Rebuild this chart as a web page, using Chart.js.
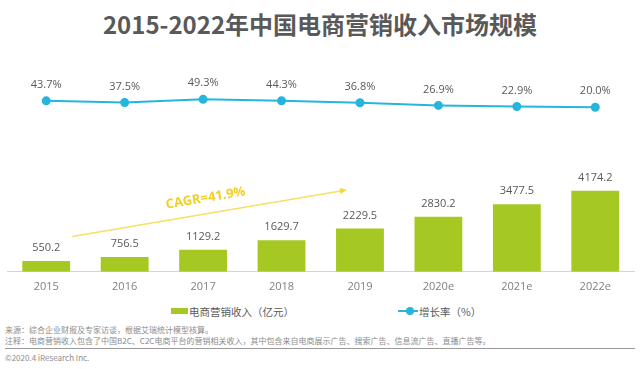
<!DOCTYPE html>
<html>
<head>
<meta charset="utf-8">
<script src="https://cdn.jsdelivr.net/npm/chart.js@4"></script>
<style>
  body { margin: 0; background: #fff; font-family: 'Noto Sans CJK SC', sans-serif; }
  #wrap { position: relative; width: 640px; height: 369px; overflow: hidden; }
  #title { position: absolute; left: 0; width: 640px; text-align: center; top: 6px; font-size: 24px; font-weight: bold; color: #595959; white-space: nowrap; }
  #box { position: absolute; left: 0; top: 56px; width: 640px; height: 245px; }
  #legend { position: absolute; top: 303px; left: 0; width: 640px; height: 16px; font-size: 10.5px; color: #595959; }
  .item { position: absolute; top: 0; height: 16px; display: flex; align-items: center; white-space: nowrap; }
  .note { position: absolute; left: 5px; font-size: 8px; color: #8c8c8c; white-space: nowrap; }
  #rule { position: absolute; left: 5px; top: 348px; width: 630px; height: 1px; background: #9a9a9a; }
</style>
</head>
<body>
<div id="wrap">
  <div id="title">2015-2022年中国电商营销收入市场规模</div>
  <div id="box"><canvas id="grafico"></canvas></div>
  <div id="legend"></div>
  <div class="note" style="top:324px">来源：综合企业财报及专家访谈，根据艾瑞统计模型核算。</div>
  <div class="note" style="top:335px">注释：电商营销收入包含了中国B2C、C2C电商平台的营销相关收入，其中包含来自电商展示广告、搜索广告、信息流广告、直播广告等。</div>
  <div id="rule"></div>
  <div class="note" style="top:352px">©2020.4 iResearch Inc.</div>
</div>
<script>
const anos = ['2015', '2016', '2017', '2018', '2019', '2020e', '2021e', '2022e'];
const receita = [550.2, 756.5, 1129.2, 1629.7, 2229.5, 2830.2, 3477.5, 4174.2];
const crescimento = [43.7, 37.5, 49.3, 44.3, 36.8, 26.9, 22.9, 20.0];
const nomeReceita = '电商营销收入（亿元）';
const nomeCrescimento = '增长率（%）';
const cagr = 'CAGR=41.9%';

const verde = '#a6c823';
const azul = '#26b5dc';
const fonteNum = "'Open Sans', 'Noto Sans CJK SC', sans-serif";

const rotulos = {
    id: 'rotulos',
    afterDatasetsDraw(chart) {
        const ctx = chart.ctx;
        ctx.save();
        ctx.font = '11px ' + fonteNum;
        ctx.fillStyle = '#595959';
        ctx.textAlign = 'center';
        ctx.textBaseline = 'middle';
        chart.getDatasetMeta(0).data.forEach((bar, i) => {
            ctx.fillText(receita[i].toFixed(1), bar.x, bar.y - 13);
        });
        chart.getDatasetMeta(1).data.forEach((pt, i) => {
            ctx.fillText(crescimento[i].toFixed(1) + '%', pt.x, pt.y - 16);
        });
        ctx.restore();
    }
};

// seta amarela do CAGR, de 2015 ate 2019
const seta = {
    id: 'seta',
    afterDatasetsDraw(chart) {
        const ctx = chart.ctx;
        const x = chart.scales.x, y = chart.scales.y;
        const x0 = x.getPixelForValue(0) + 26, y0 = y.getPixelForValue(1820);
        const x1 = x.getPixelForValue(4) - 15, y1 = y.getPixelForValue(4200);
        const ang = Math.atan2(y1 - y0, x1 - x0);
        ctx.save();
        ctx.strokeStyle = '#f6e062';
        ctx.fillStyle = '#f4d83a';
        ctx.lineWidth = 1.5;
        ctx.beginPath();
        ctx.moveTo(x0, y0);
        ctx.lineTo(x1, y1);
        ctx.stroke();
        ctx.translate(x1, y1);
        ctx.rotate(ang);
        ctx.beginPath();
        ctx.moveTo(2, 0);
        ctx.lineTo(-5, -3);
        ctx.lineTo(-5, 3);
        ctx.closePath();
        ctx.fill();
        ctx.restore();
        ctx.save();
        ctx.translate((x0 + x1) / 2 - 3, (y0 + y1) / 2 - 15);
        ctx.rotate(ang);
        ctx.font = 'bold 13px ' + fonteNum;
        ctx.fillStyle = '#f3cf22';
        ctx.textAlign = 'center';
        ctx.textBaseline = 'middle';
        ctx.fillText(cagr, 0, 0);
        ctx.restore();
    }
};

function criarGrafico() {
    const ctx = document.getElementById('grafico');
    return new Chart(ctx, {
        data: {
            labels: anos,
            datasets: [{
                type: 'bar',
                label: nomeReceita,
                data: receita,
                backgroundColor: verde,
                yAxisID: 'y',
                categoryPercentage: 1,
                barPercentage: 0.61,
                order: 2
            }, {
                type: 'line',
                label: nomeCrescimento,
                data: crescimento,
                borderColor: azul,
                backgroundColor: azul,
                borderWidth: 2,
                pointRadius: 3.5,
                pointHoverRadius: 3.5,
                yAxisID: 'y1',
                order: 1
            }]
        },
        options: {
            responsive: true,
            maintainAspectRatio: false,
            animation: false,
            layout: { padding: { left: 7, right: 5, top: 4, bottom: 0 } },
            scales: {
                x: {
                    grid: { display: false, drawTicks: false },
                    border: { display: true, color: '#d4d4d4', width: 1 },
                    ticks: { color: '#808080', padding: 8, font: { size: 11, family: fonteNum } }
                },
                y: { display: false, min: 0, max: 10825 },
                y1: { display: false, min: -588.5, max: 189.3 }
            },
            plugins: {
                legend: { display: false },
                tooltip: { enabled: false }
            }
        },
        plugins: [rotulos, seta]
    });
}

function criarLegenda(chart) {
    const leg = document.getElementById('legend');
    const ds = chart.data.datasets;
    const a = document.createElement('div');
    a.className = 'item';
    a.style.left = '171px';
    a.innerHTML = '<span style="display:inline-block;width:17px;height:6px;background:' + ds[0].backgroundColor + ';margin-right:1px"></span>' + ds[0].label;
    const b = document.createElement('div');
    b.className = 'item';
    b.style.left = '398px';
    b.innerHTML = '<span style="position:relative;display:inline-block;width:20px;height:8px;margin-right:1px">' +
        '<span style="position:absolute;left:0;top:3px;width:20px;height:2px;background:' + ds[1].borderColor + '"></span>' +
        '<span style="position:absolute;left:8px;top:0;width:8px;height:8px;border-radius:50%;background:' + ds[1].borderColor + '"></span></span>' + ds[1].label;
    leg.appendChild(a);
    leg.appendChild(b);
}

const grafico = criarGrafico();
criarLegenda(grafico);
</script>
</body>
</html>
